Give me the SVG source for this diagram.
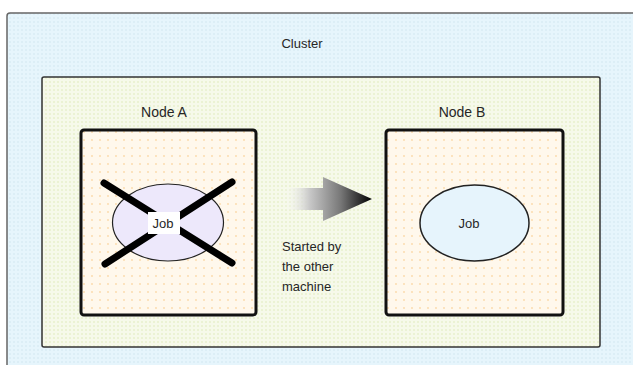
<svg xmlns="http://www.w3.org/2000/svg" width="633" height="365" viewBox="0 0 633 365">
<style>
text{font-family:"Liberation Sans",Arial,sans-serif;font-size:13px;fill:#262626}
.mid{text-anchor:middle}
.lbl{font-size:14px}
.box{stroke:#111;stroke-width:3}
.cross{stroke:#000;stroke-width:7;stroke-linecap:round}
</style>
<defs>
<pattern id="pBlue" width="4" height="4" patternUnits="userSpaceOnUse">
<rect width="4" height="4" fill="#e6f5fc"/><circle cx="2" cy="2" r="0.8" fill="#cfe6f0"/>
</pattern>
<pattern id="pGreen" width="4" height="4" patternUnits="userSpaceOnUse">
<rect width="4" height="4" fill="#f6f9ea"/><circle cx="2" cy="2" r="0.8" fill="#dfeab8"/>
</pattern>
<pattern id="pCream" width="8" height="8" patternUnits="userSpaceOnUse">
<rect width="8" height="8" fill="#fff8ec"/><circle cx="4" cy="4" r="0.9" fill="#fbd9a8"/>
</pattern>
<linearGradient id="gArrow" x1="283" y1="0" x2="372" y2="0" gradientUnits="userSpaceOnUse">
<stop offset="0" stop-color="#ffffff" stop-opacity="0"/>
<stop offset="0.3" stop-color="#c8c8c8"/>
<stop offset="0.65" stop-color="#777"/>
<stop offset="1" stop-color="#000"/>
</linearGradient>
</defs>
<g id="cluster">
<rect x="7" y="13" width="640" height="370" rx="3" fill="url(#pBlue)" stroke="#666" stroke-width="1.5"/>
<text class="mid" x="302" y="48">Cluster</text>
<rect x="42" y="77" width="558" height="270" rx="2" fill="url(#pGreen)" stroke="#333" stroke-width="1.5"/>
</g>
<g id="nodeA">
<text class="mid lbl" x="164" y="117">Node A</text>
<rect class="box" x="81" y="130" width="175" height="185" rx="3" fill="url(#pCream)"/>
</g>
<g id="jobA">
<ellipse cx="168" cy="222.5" rx="55.5" ry="38.5" fill="#ede8fb" stroke="#222" stroke-width="1.2"/>
<line class="cross" x1="104" y1="183" x2="232" y2="263"/>
<line class="cross" x1="232" y1="182" x2="105" y2="264"/>
<rect x="148" y="212" width="32" height="22" fill="#fff"/>
<text class="mid" x="163" y="228">Job</text>
</g>
<g id="nodeB">
<text class="mid lbl" x="462" y="117">Node B</text>
<rect class="box" x="386" y="130" width="177" height="185" rx="3" fill="url(#pCream)"/>
</g>
<g id="jobB">
<ellipse cx="474.5" cy="223" rx="54.5" ry="38" fill="#e6f4fc" stroke="#222" stroke-width="1.5"/>
<text class="mid" x="469" y="228">Job</text>
</g>
<g id="connectors">
<path d="M283,188 L323,188 L323,177 L372,199 L323,221 L323,210 L283,210 Z" fill="url(#gArrow)"/>
<text x="282" y="251">Started by</text>
<text x="282" y="271">the other</text>
<text x="282" y="291">machine</text>
</g>
</svg>
